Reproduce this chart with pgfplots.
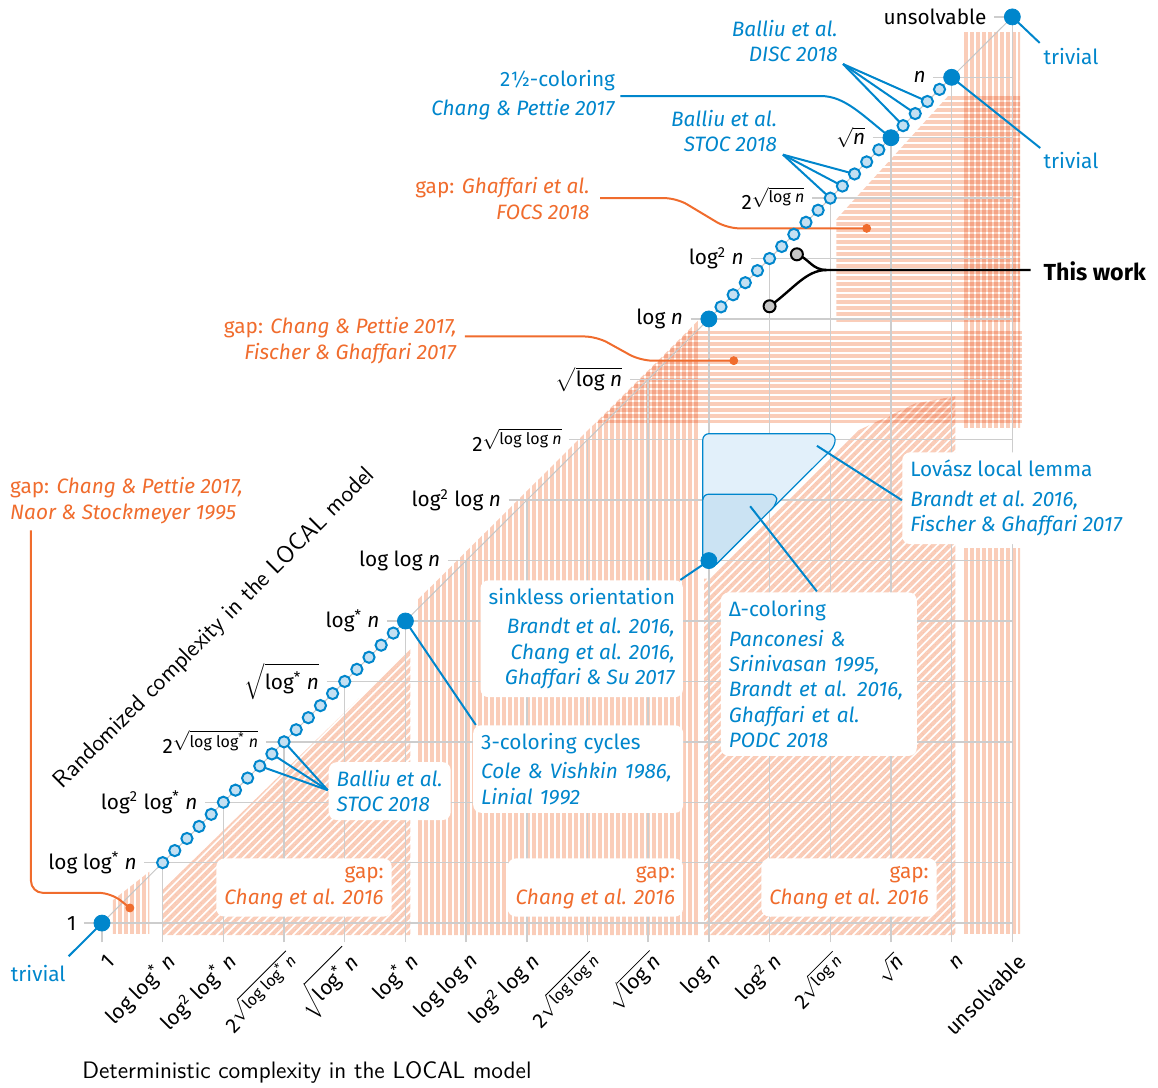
\documentclass[border=0pt]{standalone}
\usepackage{fontspec}
\setmainfont{Fira Sans}
\usepackage{pgfplots}
\pgfplotsset{compat=1.18}
\usetikzlibrary{patterns.meta}
\definecolor{cblue}{RGB}{0,134,204}
\definecolor{lblue}{RGB}{196,224,242}
\definecolor{corange}{RGB}{240,108,45}
\definecolor{hatchc}{RGB}{250,205,185}
\definecolor{gridc}{RGB}{205,205,205}
\definecolor{lllfill}{RGB}{226,240,250}
\definecolor{dfill}{RGB}{203,227,243}
\newcommand{\nn}{\textit{n}}
\newcommand{\lgs}{log\textsuperscript{*}}
\newcommand{\lgt}{log\textsuperscript{2}}
\newcommand{\tsq}[1]{2\raisebox{0.6ex}{$\sqrt{\mbox{\footnotesize #1}}$}}
\newcommand{\sq}[1]{$\sqrt{\mbox{#1}}$}
\tikzset{
 vh/.style={draw=none, pattern={Lines[angle=90,distance=3pt,line width=2pt]}, pattern color=hatchc, blend mode=multiply},
 hh/.style={draw=none, pattern={Lines[angle=0,distance=3pt,line width=2pt]}, pattern color=hatchc, blend mode=multiply},
 dh/.style={draw=none, pattern={Lines[angle=45,distance=3pt,line width=2pt]}, pattern color=hatchc, blend mode=multiply},
 box/.style={fill=white, rounded corners=4pt, inner sep=4pt},
 lead/.style={cblue, line width=1pt},
 olead/.style={corange, line width=1pt, rounded corners=6pt},
 gl/.style={gridc, line width=0.7pt},
 yl/.style={anchor=east, inner sep=0pt},
 xl/.style={anchor=east, rotate=45, inner sep=0pt},
}
\begin{document}
\begin{tikzpicture}[every node/.append style={font=\fontsize{10.4}{12.7}\selectfont}]
\begin{axis}[hide axis, scale only axis, width=579pt, height=544pt,
  xmin=-1.68, xmax=17.40, ymin=-2.73, ymax=15.28, clip=false]
% ---------- gap regions (hatched) ----------
\addplot[vh] coordinates {(0.18,-0.18)(0.78,-0.18)(0.78,0.85)(0.18,0.38)} -- cycle;
\addplot[dh] coordinates {(1.0,-0.2)(5.08,-0.2)(5.08,4.55)(1.0,0.55)} -- cycle;
\addplot[vh] coordinates {(5.2,-0.2)(9.85,-0.2)(9.85,10.0)(5.2,5.35)} -- cycle;
\addplot[hh] coordinates {(8.15,8.28)(15.16,8.28)(15.16,9.8)(9.67,9.8)} -- cycle;
\addplot[dh] coordinates {(9.92,-0.2)(14.06,-0.2)(14.06,8.72)(13.4,8.6)(12.45,8.15)(10.0,5.7)(9.92,5.7)} -- cycle;
\addplot[vh] coordinates {(14.2,-0.17)(15.13,-0.17)(15.13,6.2)(14.2,6.2)} -- cycle;
\addplot[vh] coordinates {(14.2,8.2)(15.13,8.2)(15.13,14.75)(14.2,14.75)} -- cycle;
\addplot[hh] coordinates {(12.1,9.93)(15.13,9.93)(15.13,13.7)(13.95,13.7)(12.1,11.65)} -- cycle;
% ---------- grid ----------
\draw[gl] (axis cs:-0.3,0) -- (axis cs:15,0);
\draw[gl] (axis cs:0.7,1) -- (axis cs:15,1);
\draw[gl] (axis cs:1.7,2) -- (axis cs:15,2);
\draw[gl] (axis cs:2.7,3) -- (axis cs:15,3);
\draw[gl] (axis cs:3.7,4) -- (axis cs:15,4);
\draw[gl] (axis cs:4.7,5) -- (axis cs:15,5);
\draw[gl] (axis cs:5.7,6) -- (axis cs:15,6);
\draw[gl] (axis cs:6.7,7) -- (axis cs:15,7);
\draw[gl] (axis cs:7.7,8) -- (axis cs:15,8);
\draw[gl] (axis cs:8.7,9) -- (axis cs:15,9);
\draw[gl] (axis cs:9.7,10) -- (axis cs:15,10);
\draw[gl] (axis cs:10.7,11) -- (axis cs:15,11);
\draw[gl] (axis cs:11.7,12) -- (axis cs:15,12);
\draw[gl] (axis cs:12.7,13) -- (axis cs:15,13);
\draw[gl] (axis cs:13.7,14) -- (axis cs:15,14);
\draw[gl] (axis cs:14.7,15) -- (axis cs:15,15);
\draw[gl] (axis cs:0,-0.32) -- (axis cs:0,0);
\draw[gl] (axis cs:1,-0.32) -- (axis cs:1,1);
\draw[gl] (axis cs:2,-0.32) -- (axis cs:2,2);
\draw[gl] (axis cs:3,-0.32) -- (axis cs:3,3);
\draw[gl] (axis cs:4,-0.32) -- (axis cs:4,4);
\draw[gl] (axis cs:5,-0.32) -- (axis cs:5,5);
\draw[gl] (axis cs:6,-0.32) -- (axis cs:6,6);
\draw[gl] (axis cs:7,-0.32) -- (axis cs:7,7);
\draw[gl] (axis cs:8,-0.32) -- (axis cs:8,8);
\draw[gl] (axis cs:9,-0.32) -- (axis cs:9,9);
\draw[gl] (axis cs:10,-0.32) -- (axis cs:10,10);
\draw[gl] (axis cs:11,-0.32) -- (axis cs:11,11);
\draw[gl] (axis cs:12,-0.32) -- (axis cs:12,12);
\draw[gl] (axis cs:13,-0.32) -- (axis cs:13,13);
\draw[gl] (axis cs:14,-0.32) -- (axis cs:14,14);
\draw[gl] (axis cs:15,-0.32) -- (axis cs:15,15);
\addplot[gray!45, line width=0.5pt] coordinates {(0,0)(15,15)};
% ---------- LLL / Delta-coloring regions ----------
\addplot[fill=lllfill, draw=cblue, line width=0.6pt, rounded corners=3pt] coordinates {(9.9,5.95)(9.9,8.1)(12.08,8.1)(12.08,7.9)(10.05,5.87)} -- cycle;
\addplot[fill=dfill, draw=cblue, line width=0.6pt, rounded corners=3pt] coordinates {(9.9,5.95)(9.9,7.1)(11.12,7.1)(11.12,6.94)(10.05,5.87)} -- cycle;
% ---------- boxed annotations ----------
\node[box, anchor=north east, align=right, text=cblue] at (axis cs:9.58,5.68)
 {sinkless orientation\\[2pt] \textit{Brandt et al. 2016,}\\ \textit{Chang et al. 2016,}\\ \textit{Ghaffari \& Su 2017}};
\node[box, anchor=north west, align=left, text width=97pt, text=cblue] at (axis cs:6.11,3.28)
 {3-coloring cycles\\[2pt] \textit{Cole \& Vishkin 1986,}\\ \textit{Linial 1992}};
\node[box, anchor=north west, align=left, text width=90pt, text=cblue] at (axis cs:10.19,5.48)
 {Δ-coloring\\[2pt] \textit{Panconesi \&}\\ \textit{Srinivasan 1995,}\\ \textit{Brandt et al. 2016,}\\ \textit{Ghaffari et al.}\\ \textit{PODC 2018}};
\node[box, anchor=north west, align=left, text=cblue] at (axis cs:13.18,7.8)
 {Lovász local lemma\\[2pt] \textit{Brandt et al. 2016,}\\ \textit{Fischer \& Ghaffari 2017}};
\node[box, anchor=north west, align=left, text=cblue] at (axis cs:3.73,2.67)
 {\textit{Balliu et al.}\\ \textit{STOC 2018}};
\node[box, anchor=north east, align=right, text=corange] at (axis cs:4.78,1.076) {gap:\\ \textit{Chang et al. 2016}};
\node[box, anchor=north east, align=right, text=corange] at (axis cs:9.58,1.076) {gap:\\ \textit{Chang et al. 2016}};
\node[box, anchor=north east, align=right, text=corange] at (axis cs:13.76,1.076) {gap:\\ \textit{Chang et al. 2016}};
% ---------- leader lines ----------
\draw[lead] (axis cs:0,0) -- (axis cs:-0.55,-0.55);
\draw[lead] (axis cs:15,15) -- (axis cs:15.45,14.57);
\draw[lead] (axis cs:14,14) -- (axis cs:15.46,12.83);
\draw[lead] (axis cs:12.21,14.22) -- (axis cs:13.2,13.2);
\draw[lead] (axis cs:12.21,14.22) -- (axis cs:13.4,13.4);
\draw[lead] (axis cs:12.21,14.22) -- (axis cs:13.6,13.6);
\draw[lead] (axis cs:8.54,13.69) -- (axis cs:11.85,13.69) .. controls (axis cs:12.25,13.69) and (axis cs:12.55,13.35) .. (axis cs:13,13);
\draw[lead] (axis cs:11.22,12.72) -- (axis cs:12,12);
\draw[lead] (axis cs:11.22,12.72) -- (axis cs:12.2,12.2);
\draw[lead] (axis cs:11.22,12.72) -- (axis cs:12.4,12.4);
\draw[lead] (axis cs:13.18,7.0) -- (axis cs:11.78,7.9);
\draw[lead] (axis cs:11.78,5.49) -- (axis cs:10.68,6.9);
\draw[lead] (axis cs:9.53,5.68) -- (axis cs:10,6);
\draw[lead] (axis cs:6.16,3.28) -- (axis cs:5,5);
\draw[lead] (axis cs:3.72,2.2) -- (axis cs:2.6,2.6);
\draw[lead] (axis cs:3.72,2.2) -- (axis cs:2.8,2.8);
\draw[lead] (axis cs:3.72,2.2) -- (axis cs:3.0,3.0);
\draw[olead] (axis cs:8.21,12.0) -- (axis cs:9.47,12.0) -- (axis cs:10.3,11.5) -- (axis cs:12.6,11.5);
\draw[olead] (axis cs:5.98,9.71) -- (axis cs:8.15,9.71) -- (axis cs:8.87,9.31) -- (axis cs:10.41,9.31);
\draw[olead] (axis cs:-1.17,6.5) -- (axis cs:-1.17,0.5) -- (axis cs:0.15,0.5) -- (axis cs:0.46,0.25);
\draw[black, line width=1.2pt] (axis cs:15.3,10.81) -- (axis cs:11.94,10.81) .. controls (axis cs:11.7,10.81) and (axis cs:11.65,11.0) .. (axis cs:11.45,11.07);
\draw[black, line width=1.2pt] (axis cs:11.94,10.81) .. controls (axis cs:11.6,10.81) and (axis cs:11.4,10.5) .. (axis cs:11.0,10.21);
% ---------- points ----------
\addplot[only marks, mark=*, mark size=2pt, color=corange, mark options={fill=corange}] coordinates {(0.46,0.25)(10.41,9.31)(12.6,11.5)};
\addplot[only marks, mark=*, mark size=2.8pt, mark options={draw=cblue, fill=lblue, line width=1pt}] coordinates {
(1,1)(1.2,1.2)(1.4,1.4)(1.6,1.6)(1.8,1.8)(2,2)(2.2,2.2)(2.4,2.4)(2.6,2.6)(2.8,2.8)
(3,3)(3.2,3.2)(3.4,3.4)(3.6,3.6)(3.8,3.8)(4,4)(4.2,4.2)(4.4,4.4)(4.6,4.6)(4.8,4.8)
(10.2,10.2)(10.4,10.4)(10.6,10.6)(10.8,10.8)(11,11)(11.2,11.2)(11.4,11.4)(11.6,11.6)
(11.8,11.8)(12,12)(12.2,12.2)(12.4,12.4)(12.6,12.6)(12.8,12.8)
(13.2,13.2)(13.4,13.4)(13.6,13.6)(13.8,13.8)};
\addplot[only marks, mark=*, mark size=3pt, mark options={draw=black, fill=gray!45, line width=1pt}] coordinates {(11,10.21)(11.45,11.07)};
\addplot[only marks, mark=*, mark size=4pt, color=cblue, mark options={fill=cblue}] coordinates {(0,0)(5,5)(10,10)(13,13)(14,14)(15,15)(10,6)};
% ---------- free annotations ----------
\node[anchor=north west, align=left, inner sep=0pt, text=corange] at (axis cs:-1.52,7.38)
 {gap: \textit{Chang \& Pettie 2017,}\\ \textit{Naor \& Stockmeyer 1995}};
\node[anchor=north east, align=right, inner sep=0pt, text=corange] at (axis cs:5.85,10.03)
 {gap: \textit{Chang \& Pettie 2017,}\\ \textit{Fischer \& Ghaffari 2017}};
\node[anchor=north east, align=right, inner sep=0pt, text=corange] at (axis cs:8.04,12.35)
 {gap: \textit{Ghaffari et al.}\\ \textit{FOCS 2018}};
\node[anchor=north east, align=right, inner sep=0pt, text=cblue] at (axis cs:8.46,14.12)
 {2½-coloring\\[1.5pt] \textit{Chang \& Pettie 2017}};
\node[anchor=north east, align=right, inner sep=0pt, text=cblue] at (axis cs:12.13,14.95)
 {\textit{Balliu et al.}\\ \textit{DISC 2018}};
\node[anchor=north east, align=right, inner sep=0pt, text=cblue] at (axis cs:11.13,13.46)
 {\textit{Balliu et al.}\\ \textit{STOC 2018}};
\node[anchor=west, inner sep=0pt, font=\fontsize{11.6}{13}\selectfont\bfseries] at (axis cs:15.51,10.79) {This work};
\node[anchor=west, inner sep=0pt, text=cblue] at (axis cs:15.51,14.34) {trivial};
\node[anchor=west, inner sep=0pt, text=cblue] at (axis cs:15.51,12.63) {trivial};
\node[inner sep=0pt, text=cblue] at (axis cs:-1.05,-0.83) {trivial};
% ---------- y labels (diagonal) ----------
\node[yl] at (axis cs:-0.42,0) {1};
\node[yl] at (axis cs:0.58,1) {log \lgs~\nn};
\node[yl] at (axis cs:1.58,2) {\lgt~\lgs~\nn};
\node[yl] at (axis cs:2.58,3) {\tsq{log \lgs~\nn}};
\node[yl] at (axis cs:3.58,4) {\sq{\lgs~\nn}};
\node[yl] at (axis cs:4.58,5) {\lgs~\nn};
\node[yl] at (axis cs:5.58,6) {log log \nn};
\node[yl] at (axis cs:6.58,7) {\lgt~log \nn};
\node[yl] at (axis cs:7.58,8) {\tsq{log log \nn}};
\node[yl] at (axis cs:8.58,9) {\sq{log \nn}};
\node[yl] at (axis cs:9.58,10) {log \nn};
\node[yl] at (axis cs:10.58,11) {\lgt~\nn};
\node[yl] at (axis cs:11.58,12) {\tsq{log \nn}};
\node[yl] at (axis cs:12.58,13) {\sq{\nn}};
\node[yl] at (axis cs:13.58,14) {\nn};
\node[yl] at (axis cs:14.58,15) {unsolvable};
% ---------- x labels ----------
\node[xl] at (axis cs:0.16,-0.58) {1};
\node[xl] at (axis cs:1.16,-0.58) {log \lgs~\nn};
\node[xl] at (axis cs:2.16,-0.58) {\lgt~\lgs~\nn};
\node[xl] at (axis cs:3.16,-0.58) {\tsq{log \lgs~\nn}};
\node[xl] at (axis cs:4.16,-0.58) {\sq{\lgs~\nn}};
\node[xl] at (axis cs:5.16,-0.58) {\lgs~\nn};
\node[xl] at (axis cs:6.16,-0.58) {log log \nn};
\node[xl] at (axis cs:7.16,-0.58) {\lgt~log \nn};
\node[xl] at (axis cs:8.16,-0.58) {\tsq{log log \nn}};
\node[xl] at (axis cs:9.16,-0.58) {\sq{log \nn}};
\node[xl] at (axis cs:10.16,-0.58) {log \nn};
\node[xl] at (axis cs:11.16,-0.58) {\lgt~\nn};
\node[xl] at (axis cs:12.16,-0.58) {\tsq{log \nn}};
\node[xl] at (axis cs:13.16,-0.58) {\sq{\nn}};
\node[xl] at (axis cs:14.16,-0.58) {\nn};
\node[xl] at (axis cs:15.16,-0.58) {unsolvable};
% ---------- axis titles ----------
\node[rotate=45, font=\sffamily\fontsize{12}{14}\selectfont] at (axis cs:1.86,4.88) {Randomized complexity in the LOCAL model};
\node[anchor=west, inner sep=0pt, font=\sffamily\fontsize{11.9}{14}\selectfont] at (axis cs:-0.33,-2.48) {Deterministic complexity in the LOCAL model};
\end{axis}
\pgfresetboundingbox
\path[use as bounding box] (current axis.south west) rectangle (current axis.north east);
\end{tikzpicture}
\end{document}
